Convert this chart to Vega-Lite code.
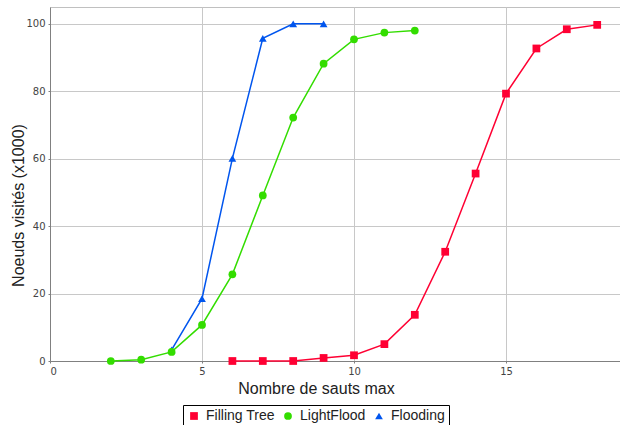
{
  "$schema": "https://vega.github.io/schema/vega-lite/v6.json",
  "width": 570,
  "height": 354,
  "autosize": {"type": "none"},
  "padding": {"left": 50, "top": 7, "right": 0, "bottom": 64},
  "background": "white",
  "config": {
    "view": {"stroke": "#c0c0c0", "strokeWidth": 1},
    "font": "Liberation Sans"
  },
  "data": {
    "values": [
      {"series": "Flooding", "x": 4, "y": 3.3},
      {"series": "Flooding", "x": 5, "y": 18.5},
      {"series": "Flooding", "x": 6, "y": 60.1},
      {"series": "Flooding", "x": 7, "y": 95.7},
      {"series": "Flooding", "x": 8, "y": 100},
      {"series": "Flooding", "x": 9, "y": 100},
      {"series": "LightFlood", "x": 2, "y": 0},
      {"series": "LightFlood", "x": 3, "y": 0.4},
      {"series": "LightFlood", "x": 4, "y": 2.7},
      {"series": "LightFlood", "x": 5, "y": 10.7},
      {"series": "LightFlood", "x": 6, "y": 25.7},
      {"series": "LightFlood", "x": 7, "y": 49.1},
      {"series": "LightFlood", "x": 8, "y": 72.2},
      {"series": "LightFlood", "x": 9, "y": 88.2},
      {"series": "LightFlood", "x": 10, "y": 95.4},
      {"series": "LightFlood", "x": 11, "y": 97.4},
      {"series": "LightFlood", "x": 12, "y": 98.0},
      {"series": "Filling Tree", "x": 6, "y": 0},
      {"series": "Filling Tree", "x": 7, "y": 0},
      {"series": "Filling Tree", "x": 8, "y": 0},
      {"series": "Filling Tree", "x": 9, "y": 0.9},
      {"series": "Filling Tree", "x": 10, "y": 1.7},
      {"series": "Filling Tree", "x": 11, "y": 5.0},
      {"series": "Filling Tree", "x": 12, "y": 13.7},
      {"series": "Filling Tree", "x": 13, "y": 32.4},
      {"series": "Filling Tree", "x": 14, "y": 55.6},
      {"series": "Filling Tree", "x": 15, "y": 79.3},
      {"series": "Filling Tree", "x": 16, "y": 92.7},
      {"series": "Filling Tree", "x": 17, "y": 98.4},
      {"series": "Filling Tree", "x": 18, "y": 99.7}
    ]
  },
  "encoding": {
    "x": {
      "field": "x", "type": "quantitative",
      "scale": {"domain": [0, 18.75], "nice": false, "zero": false},
      "axis": {
        "title": "Nombre de sauts max",
        "values": [0, 5, 10, 15],
        "grid": true, "gridColor": "#c8c8c8", "gridWidth": 1,
        "domainColor": "#808080", "tickColor": "#808080", "tickSize": 2,
        "labelFont": "DejaVu Sans", "labelFontSize": 10, "labelColor": "#444444", "labelPadding": 3,
        "titleFont": "Liberation Sans", "titleFontSize": 16, "titleFontWeight": "normal", "titleColor": "#222222", "titlePadding": 4,
        "titleX": 266
      }
    },
    "y": {
      "field": "y", "type": "quantitative",
      "scale": {"domain": [0, 105], "nice": false},
      "axis": {
        "title": "Noeuds visités (x1000)",
        "values": [0, 20, 40, 60, 80, 100],
        "grid": true, "gridColor": "#c8c8c8", "gridWidth": 1,
        "domainColor": "#808080", "tickColor": "#808080", "tickSize": 2,
        "labelFont": "DejaVu Sans", "labelFontSize": 10, "labelColor": "#444444", "labelPadding": 3,
        "titleFont": "Liberation Sans", "titleFontSize": 16, "titleFontWeight": "normal", "titleColor": "#222222",
        "titleX": -32, "titleY": 198, "titleBaseline": "middle"
      }
    },
    "color": {
      "field": "series", "type": "nominal",
      "scale": {"domain": ["Filling Tree", "LightFlood", "Flooding"], "range": ["#ff0033", "#33dd00", "#0055ee"]},
      "legend": {
        "title": null, "orient": "none", "direction": "horizontal",
        "legendX": 133, "legendY": 398,
        "strokeColor": "#000000", "padding": 4,
        "labelFont": "Liberation Sans", "labelFontSize": 14, "labelColor": "#222222",
        "symbolSize": 60, "symbolStrokeWidth": 0, "columnPadding": 6, "labelOffset": 5
      }
    },
    "detail": {"field": "series"}
  },
  "layer": [
    {
      "mark": {"type": "line", "strokeWidth": 1.5}
    },
    {
      "mark": {"type": "point", "filled": true, "opacity": 1, "size": 60},
      "encoding": {
        "shape": {
          "field": "series", "type": "nominal",
          "scale": {"domain": ["Filling Tree", "LightFlood", "Flooding"], "range": ["square", "circle", "triangle-up"]},
          "legend": null
        }
      }
    }
  ]
}
